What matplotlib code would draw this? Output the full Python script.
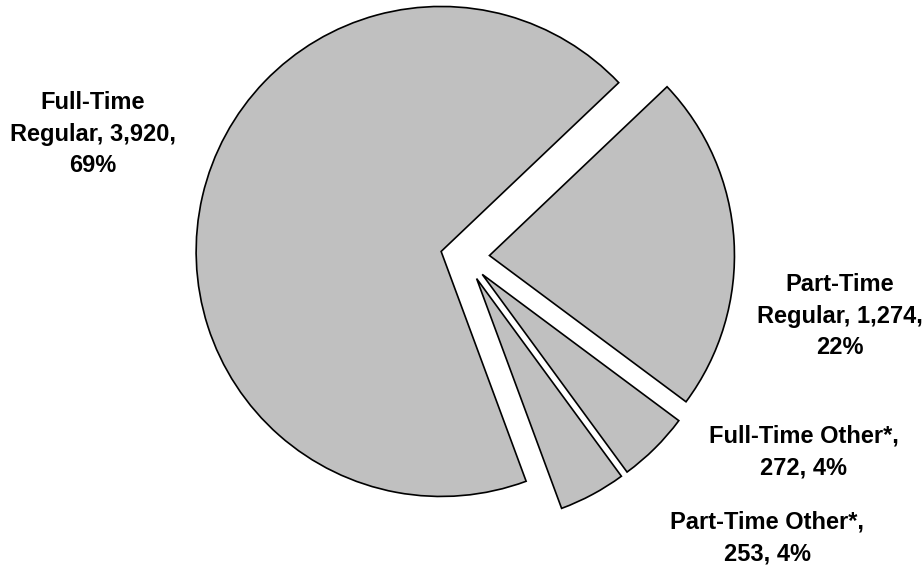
import matplotlib.pyplot as plt

categories = ["Full-Time\nRegular", "Part-Time\nRegular", "Full-Time Other*", "Part-Time Other*"]
counts = [3920, 1274, 272, 253]
percents = [69, 22, 4, 4]

# label layout (centre of each text block, in pixels from top-left)
label_pos = [(93, 134), (840, 316), (804, 452), (767, 538)]
label_fmt = ["{c}, {n:,},\n{p}%", "{c}, {n:,},\n{p}%", "{c},\n{n}, {p}%", "{c},\n{n}, {p}%"]

plt.rcParams['font.family'] = ['Liberation Sans', 'DejaVu Sans']

W, H = 924, 567
R = 245
fig = plt.figure(figsize=(W / 100, H / 100), dpi=100)
ax = fig.add_axes([0, 0, 1, 1])

# explode in pie is absolute, so scale by the radius
ax.pie(counts, explode=[0.1 * R] * 4, startangle=-69.7, counterclock=False,
       radius=R, center=(465, H - 257), frame=True,
       colors=['#C0C0C0'] * 4,
       wedgeprops=dict(edgecolor='black', linewidth=1.2))
ax.set_xlim(0, W)
ax.set_ylim(0, H)
ax.set_aspect('equal')
ax.axis('off')

for cat, n, p, fmt, (x, y) in zip(categories, counts, percents, label_fmt, label_pos):
    ax.text(x, H - y, fmt.format(c=cat, n=n, p=p), ha='center', va='center',
            multialignment='center', fontsize=17, fontweight='bold',
            linespacing=1.45)

fig.savefig("out.png", dpi=100)
